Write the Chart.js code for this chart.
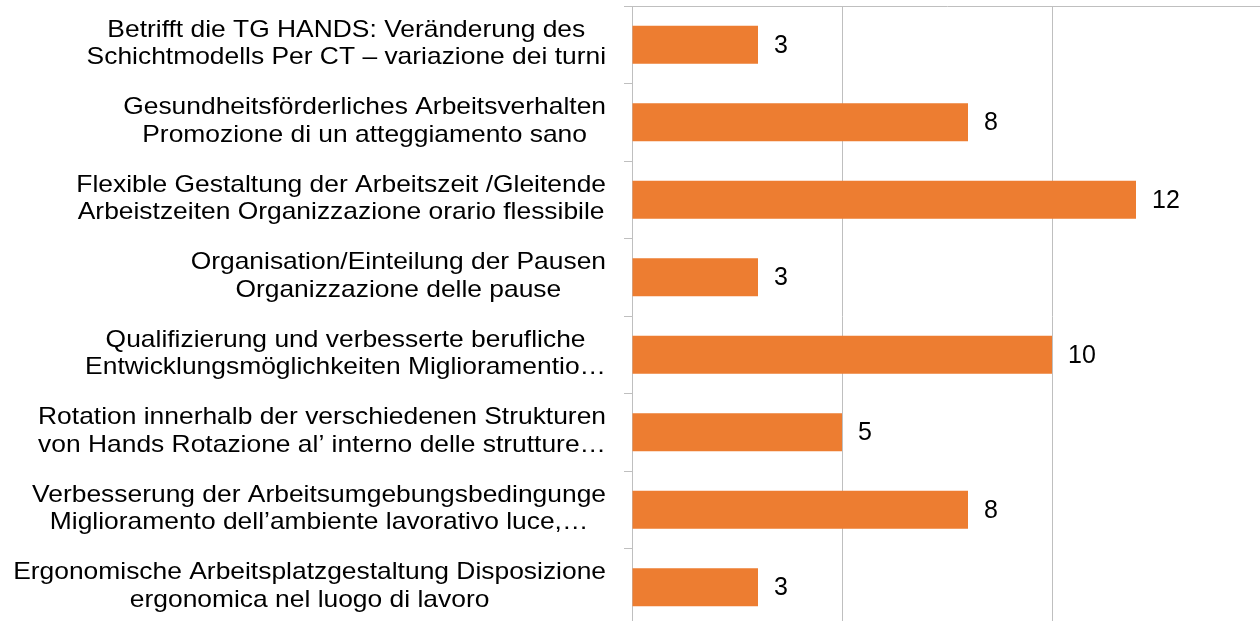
<!DOCTYPE html>
<html>
<head>
<meta charset="utf-8">
<script src="https://cdn.jsdelivr.net/npm/chart.js@4.4.1/dist/chart.umd.min.js"></script>
<style>
  html, body { margin: 0; padding: 0; background: #fff; overflow: hidden; }
</style>
</head>
<body>
<canvas id="chart" width="1270" height="630"></canvas>
<script>
// --- DATA ---
const categories = [
    ['Betrifft die TG HANDS: Veränderung des', 'Schichtmodells Per CT – variazione dei turni'],
    ['Gesundheitsförderliches Arbeitsverhalten', 'Promozione di un atteggiamento sano'],
    ['Flexible Gestaltung der Arbeitszeit /Gleitende', 'Arbeistzeiten Organizzazione orario flessibile'],
    ['Organisation/Einteilung der Pausen', 'Organizzazione delle pause'],
    ['Qualifizierung und verbesserte berufliche', 'Entwicklungsmöglichkeiten Miglioramentio…'],
    ['Rotation innerhalb der verschiedenen Strukturen', 'von Hands Rotazione al’ interno delle strutture…'],
    ['Verbesserung der Arbeitsumgebungsbedingunge', 'Miglioramento dell’ambiente lavorativo luce,…'],
    ['Ergonomische Arbeitsplatzgestaltung Disposizione', 'ergonomica nel luogo di lavoro']
];
const values = [3, 8, 12, 3, 10, 5, 8, 3];
const xTicks = [0, 5, 10, 15];

const FONT = '"Liberation Sans", Arial, sans-serif';
const LINE_COLOR = '#bfbfbf';

// --- PLUGINS ---
// category labels: block right aligned next to the axis, lines centered inside the block.
// the reference text is a bit wider than Arial, so stretch it horizontally
const categoryLabels = {
    id: 'categoryLabels',
    afterDraw(chart) {
        const ctx = chart.ctx;
        const yScale = chart.scales.y;
        const right = chart.chartArea.left - 26;
        const lineH = 27.5;
        const sx = 1.1;
        ctx.save();
        ctx.font = '24px ' + FONT;
        ctx.fillStyle = '#000';
        ctx.textAlign = 'center';
        ctx.textBaseline = 'middle';
        categories.forEach((lines, i) => {
            const cy = yScale.getPixelForValue(i) - 1;
            const w = Math.max(...lines.map(l => ctx.measureText(l).width)) * sx;
            const cx = right - w / 2;
            lines.forEach((l, j) => {
                ctx.save();
                ctx.translate(cx, cy + (j - (lines.length - 1) / 2) * lineH);
                ctx.scale(sx, 1);
                ctx.fillText(l, 0, 0);
                ctx.restore();
            });
        });
        ctx.restore();
    }
};

// value labels at the end of each bar
const valueLabels = {
    id: 'valueLabels',
    afterDatasetsDraw(chart) {
        const ctx = chart.ctx;
        const meta = chart.getDatasetMeta(0);
        ctx.save();
        ctx.font = '25px ' + FONT;
        ctx.fillStyle = '#000';
        ctx.textAlign = 'left';
        ctx.textBaseline = 'middle';
        meta.data.forEach((bar, i) => {
            ctx.fillText(String(values[i]), bar.x + 16, bar.y + 1);
        });
        ctx.restore();
    }
};

// --- CHART ---
new Chart(document.getElementById('chart'), {
    type: 'bar',
    data: {
        labels: categories,
        datasets: [{
            data: values,
            backgroundColor: '#ED7D31',
            borderWidth: 0,
            barPercentage: 0.49,
            categoryPercentage: 1
        }]
    },
    options: {
        indexAxis: 'y',
        responsive: false,
        animation: false,
        layout: { padding: { top: 0, right: 8, bottom: 4, left: 0 } },
        plugins: { legend: { display: false }, tooltip: { enabled: false } },
        scales: {
            x: {
                position: 'top',
                min: xTicks[0],
                max: xTicks[xTicks.length - 1],
                ticks: { display: false, stepSize: xTicks[1] - xTicks[0] },
                grid: { color: LINE_COLOR, drawTicks: false },
                border: { color: LINE_COLOR },
                afterFit: s => { s.height = 6; }
            },
            y: {
                ticks: { display: false },
                grid: { offset: true, drawOnChartArea: false, tickLength: 8, color: LINE_COLOR },
                border: { color: LINE_COLOR },
                afterFit: s => { s.width = 632; }
            }
        }
    },
    plugins: [categoryLabels, valueLabels]
});
</script>
</body>
</html>
